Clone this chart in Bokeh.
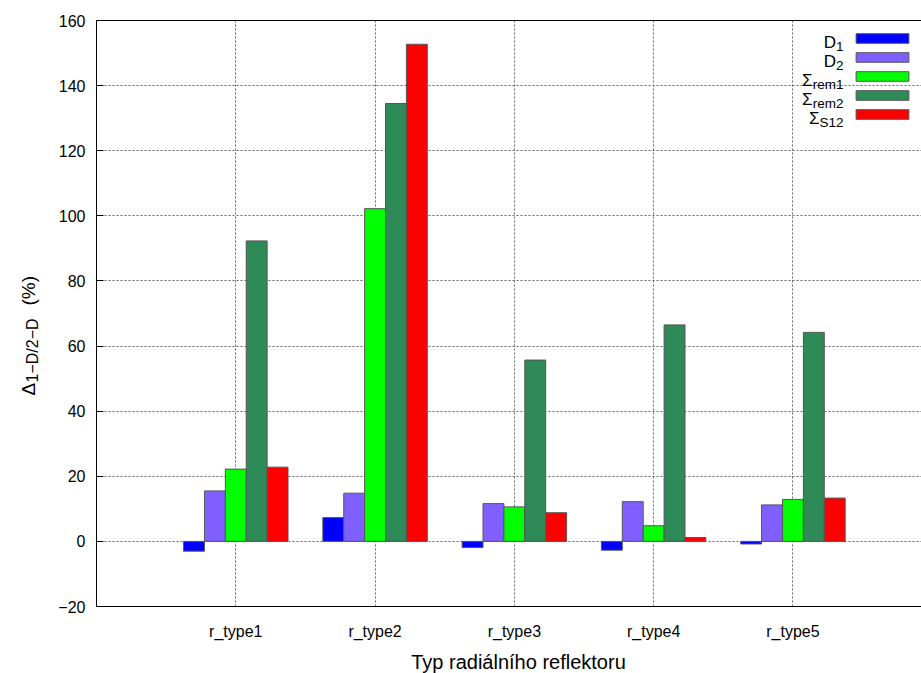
import math
from bokeh.plotting import figure
from bokeh.layouts import row, column
from bokeh.models import (Range1d, FixedTicker, LinearAxis, Label, Legend, LegendItem, Grid)
from bokeh.core.properties import value
from bokeh.embed import file_html
from bokeh.resources import INLINE

# ---- data ----
categories = ["r_type1", "r_type2", "r_type3", "r_type4", "r_type5"]
cat_pos = [1, 2, 3, 4, 5]
D1 = [-3.0, 7.3, -1.9, -2.7, -0.8]
D2 = [15.5, 14.8, 11.6, 12.2, 11.2]
sigma_rem1 = [22.2, 102.2, 10.6, 4.8, 12.9]
sigma_rem2 = [92.3, 134.5, 55.7, 66.5, 64.2]
sigma_S12 = [22.8, 152.7, 8.8, 1.2, 13.3]
y_ticks = [-20, 0, 20, 40, 60, 80, 100, 120, 140, 160]

series = [D1, D2, sigma_rem1, sigma_rem2, sigma_S12]
colors = ["#0000ff", "#7f5fff", "#00ff00", "#2e8b57", "#ff0000"]
offsets = [-0.3, -0.15, 0.0, 0.15, 0.3]
bar_w = 0.15

FONT = "Liberation Sans"
W, H = 921, 673
YW = 40          # width of the y-title strip
XH = 24          # height of the x-title strip
FL, FT, FB = 96, 20, 606   # frame left / top / bottom in page px
PH = H - XH

p = figure(width=W - YW, height=PH, output_backend="svg", toolbar_location=None,
           x_range=Range1d(0, 5.923), y_range=Range1d(-20, 160),
           min_border_left=FL - YW, min_border_right=0, min_border_top=FT,
           min_border_bottom=PH - FB,
           x_axis_location=None, y_axis_location=None)
p.outline_line_color = None
p.background_fill_color = "white"
p.border_fill_color = "white"
for g in list(p.grid):
    g.visible = False

# axes
xax = LinearAxis(ticker=FixedTicker(ticks=cat_pos))
xax.major_label_overrides = {c: lab for c, lab in zip(cat_pos, categories)}
xax.major_label_text_font = FONT
xax.major_label_text_font_size = "16px"
xax.major_label_text_color = "black"
xax.major_label_standoff = 16
xax.major_tick_in = 0
xax.major_tick_out = 0
xax.minor_tick_line_color = None
xax.axis_line_color = "black"
p.add_layout(xax, "below")

yax = LinearAxis(ticker=FixedTicker(ticks=y_ticks))
yax.major_label_overrides = {t: (("\u2212" + str(-t)) if t < 0 else str(t)) for t in y_ticks}
yax.major_label_text_font = FONT
yax.major_label_text_font_size = "16px"
yax.major_label_text_color = "black"
yax.major_label_standoff = 11
yax.major_tick_in = 7
yax.major_tick_out = 0
yax.major_tick_line_color = "black"
yax.minor_tick_line_color = None
yax.axis_line_color = "black"
p.add_layout(yax, "left")

top = LinearAxis(ticker=FixedTicker(ticks=[]))
top.major_label_text_font_size = "0px"
top.major_tick_in = 0
top.major_tick_out = 0
top.minor_tick_line_color = None
top.axis_line_color = "black"
p.add_layout(top, "above")

# grids
xg = Grid(dimension=0, ticker=FixedTicker(ticks=cat_pos))
yg = Grid(dimension=1, ticker=FixedTicker(ticks=y_ticks))
for g in (xg, yg):
    g.grid_line_color = "#666666"
    g.grid_line_dash = "2 2"
    g.grid_line_width = 1
    p.add_layout(g)

# bars
renderers = []
for vals, col, off in zip(series, colors, offsets):
    xs = [c + off for c in cat_pos]
    r = p.vbar(x=xs, top=vals, bottom=0, width=bar_w, fill_color=col,
               line_color="#555555", line_width=1)
    renderers.append(r)

# legend (boxes; texts with subscripts are labels)
legend = Legend(items=[LegendItem(label=" ", renderers=[r]) for r in renderers],
                location=(753, 486), orientation="vertical",
                glyph_width=66, glyph_height=12, label_height=12, label_width=0,
                label_standoff=0, padding=0, margin=0, spacing=7,
                border_line_alpha=0, background_fill_alpha=0,
                label_text_font_size="1px")
p.add_layout(legend)


def lab(text, px, py, size, align="right"):
    p.add_layout(Label(x=px - FL, y=FB - py, x_units="screen", y_units="screen",
                       text=text, text_font=FONT, text_font_size=size,
                       text_align=align, text_baseline="alphabetic",
                       text_color="black"))

legend_rows = [("D", "1"), ("D", "2"), ("\u03a3", "rem1"), ("\u03a3", "rem2"), ("\u03a3", "S12")]
sub_widths = {"1": 7.5, "2": 7.5, "rem1": 31, "rem2": 31, "S12": 24}
for i, (main, sub) in enumerate(legend_rows):
    yc = 38 + 19 * i
    lab(sub, 843, yc + 8, "13.5px")
    lab(main, 843 - sub_widths[sub], yc + 4, "17px")

# y-axis title strip (rotated text with subscript); y data = -page y
yfig = figure(width=YW, height=PH, output_backend="svg", toolbar_location=None,
              x_range=Range1d(0, YW), y_range=Range1d(-FB, -FT),
              min_border_left=0, min_border_right=0, min_border_top=FT,
              min_border_bottom=PH - FB, x_axis_location=None, y_axis_location=None)
yfig.outline_line_color = None
for g in list(yfig.grid):
    g.visible = False
ytitle_parts = ["\u0394", "1\u2212D/2\u2212D", "(%)"]
ytitle_x = [28, 32, 28]
ytitle_y = [-395, -382, -305]
ytitle_sz = ["19px", "16px", "19px"]
for t, tx, ty, sz in zip(ytitle_parts, ytitle_x, ytitle_y, ytitle_sz):
    yfig.text(x=[tx], y=[ty], text=[t], angle=math.pi / 2,
              text_font=value(FONT), text_font_size=value(sz),
              text_align="left", text_baseline="alphabetic", text_color="black")

# x-axis title strip
xfig = figure(width=W, height=XH, output_backend="svg", toolbar_location=None,
              x_range=Range1d(0, W), y_range=Range1d(0, XH),
              min_border=0, x_axis_location=None, y_axis_location=None)
xfig.outline_line_color = None
for g in list(xfig.grid):
    g.visible = False
xfig.text(x=[518], y=[12], text=["Typ radiálního reflektoru"],
          text_font=value(FONT), text_font_size=value("20px"),
          text_align="center", text_baseline="middle", text_color="black")

layout = column(row(yfig, p, spacing=0), xfig, spacing=0)
open("out.html", "w").write(file_html(layout, INLINE))
